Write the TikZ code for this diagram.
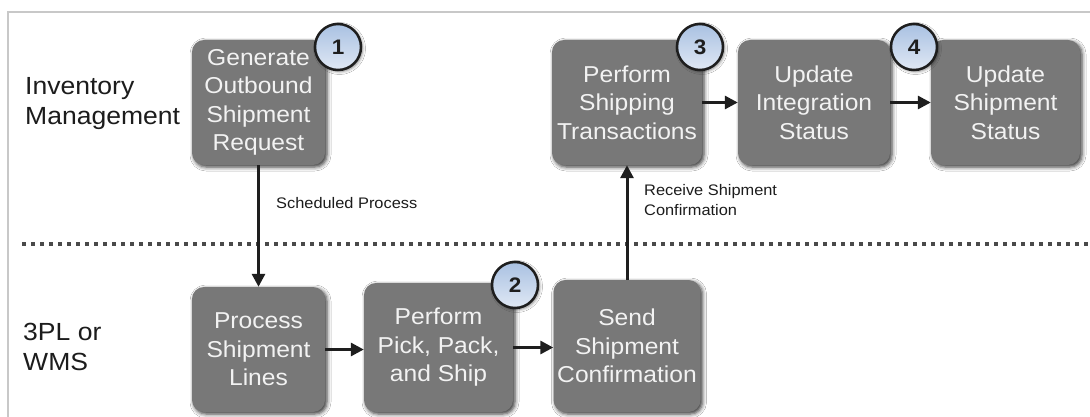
\documentclass[tikz,border=0pt]{standalone}
\usepackage{fontspec}
\setmainfont[FakeStretch=1.07]{Liberation Sans}
\usetikzlibrary{arrows.meta,shadows.blur}
\definecolor{boxgray}{HTML}{787878}
\definecolor{boxtext}{HTML}{F2F2F2}
\definecolor{arrowc}{HTML}{1E1E1E}
\definecolor{framec}{HTML}{C8C8C8}
\definecolor{dotc}{HTML}{4A4A4A}
\definecolor{labelc}{HTML}{1C1C1C}
\definecolor{badgetop}{HTML}{A9C1E2}
\definecolor{badgebot}{HTML}{E0E8F4}
\begin{document}
\begin{tikzpicture}[x=1pt,y=-1pt,
  box/.style={rounded corners=12pt, fill=boxgray, text=boxtext, align=center,
    inner sep=0pt, font=\fontsize{23}{28.5}\selectfont,
    blur shadow={shadow xshift=2pt, shadow yshift=-2pt, shadow blur radius=4pt, shadow opacity=80}},
  badge/.style={circle, minimum size=46pt, inner sep=0pt, draw=arrowc, line width=2.5pt,
    top color=badgetop, bottom color=badgebot, text=arrowc,
    font=\fontsize{21}{24}\selectfont\bfseries,
    blur shadow={shadow xshift=1.5pt, shadow yshift=-1.5pt, shadow blur radius=3pt, shadow opacity=50}},
  arr/.style={draw=arrowc, line width=3pt, -{Triangle[length=13pt,width=13pt]}},
  lane/.style={text=labelc, align=left, inner sep=0pt, font=\fontsize{24.8}{30}\selectfont},
  note/.style={text=labelc, align=left, inner sep=0pt, font=\fontsize{15.3}{20}\selectfont}
]
\useasboundingbox (0,0) rectangle (1090,417);
\fill[white] (0,0) rectangle (1090,417);
% frame
\draw[framec, line width=2.5pt] (8,420) -- (8,12) -- (1095,12);
% swimlane separator
\draw[dotc, line width=3.5pt, dash pattern=on 3.5pt off 5.5pt] (22,244) -- (1095,244);
% lane labels
\node[lane, anchor=west] (invm) at (25,104) {Inventory\\Management};
\node[lane, anchor=west] (wms) at (23,346.5) {3PL or\\WMS};
% boxes
\node[box, minimum width=133pt, minimum height=125pt] (gen) at (258.5,102.5) {Generate\\Outbound\\Shipment\\Request};
\node[box, minimum width=133pt, minimum height=125pt] (psl) at (258.5,349.5) {Process\\Shipment\\Lines};
\node[box, minimum width=149pt, minimum height=129pt] (ppp) at (438.5,347.5) {Perform\\Pick, Pack,\\and Ship};
\node[box, minimum width=147pt, minimum height=132pt] (ssc) at (627,346) {Send\\Shipment\\Confirmation};
\node[box, minimum width=150pt, minimum height=125pt] (pst) at (627,102.5) {Perform\\Shipping\\Transactions};
\node[box, minimum width=152pt, minimum height=125pt] (uis) at (814,102.5) {Update\\Integration\\Status};
\node[box, minimum width=149pt, minimum height=125pt] (uss) at (1005.5,102.5) {Update\\Shipment\\Status};
% connectors
\draw[arr] (gen.south) -- (psl.north);
\draw[arr] (psl.east) -- (psl.east -| ppp.west);
\draw[arr] (ppp.east) -- (ppp.east -| ssc.west);
\draw[arr] (ssc.north) -- (ssc.north |- pst.south);
\draw[arr] (pst.east) -- (uis.west);
\draw[arr] (uis.east) -- (uss.west);
% connector labels
\node[note, anchor=base west] (sched) at (276,208) {Scheduled Process};
\node[note, anchor=west] (recv) at (644,200) {Receive Shipment\\Confirmation};
% step badges
\node[badge] (b1) at (338,47) {1};
\node[badge] (b2) at (515,285) {2};
\node[badge] (b3) at (700,47) {3};
\node[badge] (b4) at (914,47) {4};
\end{tikzpicture}
\end{document}
